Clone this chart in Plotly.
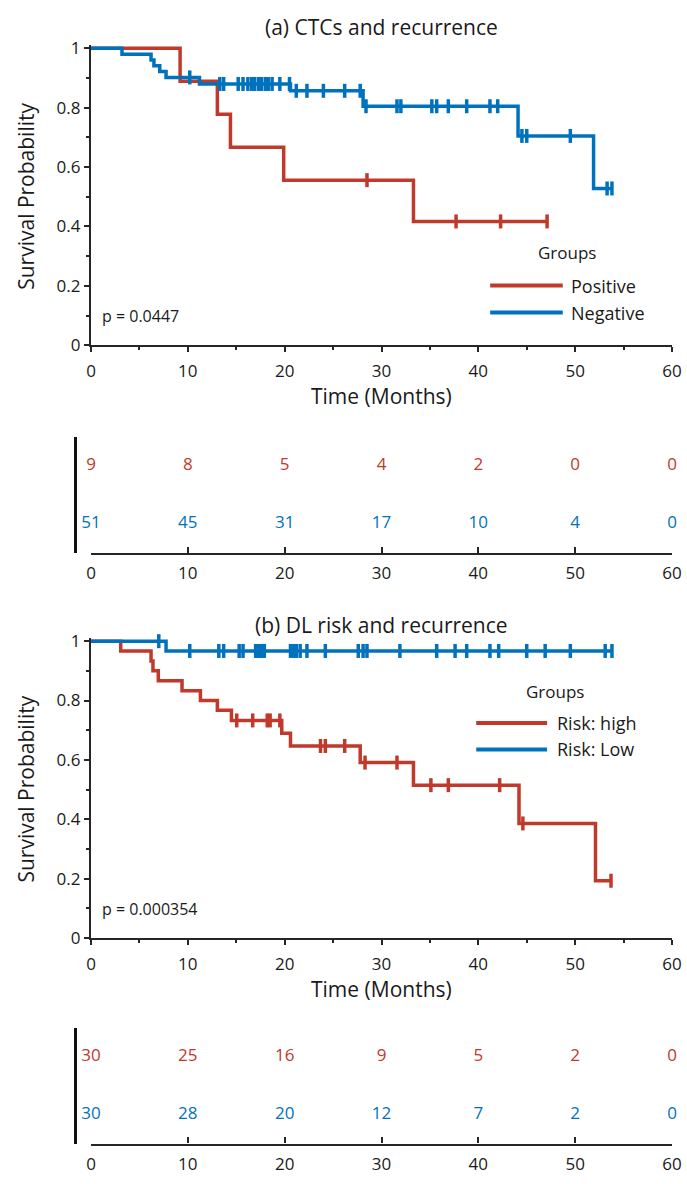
import plotly.graph_objects as go

# ---------------- data ----------------
# (a) CTCs and recurrence
pos_event_times = [9.2, 13.05, 14.4, 19.9, 33.3]
pos_surv = [0.889, 0.778, 0.667, 0.556, 0.417]
pos_censor = [28.5, 37.7, 42.3, 47.1]
pos_end = 47.1

neg_event_times = [3.2, 6.2, 6.5, 7.1, 7.75, 11.2, 20.6, 28.1, 44.1, 51.9]
neg_surv = [0.980, 0.961, 0.941, 0.922, 0.902, 0.880, 0.857, 0.805, 0.705, 0.528]
neg_censor = [10.2, 13.3, 13.7, 15.2, 15.7, 16.2, 16.6, 16.9, 17.3, 17.6, 18.0,
              18.3, 18.7, 19.5, 20.5, 21.2, 22.3, 24.0, 26.2, 27.8, 28.4, 31.6,
              32.0, 35.2, 35.7, 36.9, 38.8, 41.2, 42.0, 44.5, 45.0, 49.5, 53.3, 53.8]
neg_end = 53.8

# (b) DL risk and recurrence
high_event_times = [3.07, 6.2, 6.4, 6.95, 9.4, 11.3, 13.05, 14.5, 19.7, 20.6,
                    27.8, 33.3, 44.2, 52.1]
high_surv = [0.967, 0.933, 0.900, 0.867, 0.833, 0.800, 0.767, 0.733, 0.690,
             0.647, 0.591, 0.515, 0.386, 0.193]
high_censor = [15.05, 16.7, 18.2, 18.5, 19.5, 23.7, 24.2, 26.2, 28.3, 31.6,
               35.1, 36.9, 42.2, 44.6, 53.7]
high_end = 53.7

low_event_times = [7.75]
low_surv = [0.967]
low_censor = [7.0, 10.2, 13.2, 13.7, 15.3, 15.7, 17.0, 17.3, 17.6, 17.9, 20.6,
              20.9, 21.2, 21.6, 22.3, 24.2, 27.6, 28.1, 28.5, 31.9, 35.7, 37.6,
              38.8, 41.2, 42.1, 45.0, 46.9, 49.5, 53.1, 53.8]
low_end = 53.8

# numbers at risk
risk_times = [0, 10, 20, 30, 40, 50, 60]
ctc_pos_risk = [9, 8, 5, 4, 2, 0, 0]
ctc_neg_risk = [51, 45, 31, 17, 10, 4, 0]
dl_high_risk = [30, 25, 16, 9, 5, 2, 0]
dl_low_risk = [30, 28, 20, 12, 7, 2, 0]

titles = ["(a) CTCs and recurrence", "(b) DL risk and recurrence"]
legend_a = ["Positive", "Negative"]
legend_b = ["Risk: high", "Risk: Low"]
pvals = ["p = 0.0447", "p = 0.000354"]

# ---------------- styles ----------------
RED = "#C0392B"
BLUE = "#0072BD"
INK = "#1a1a1a"
AX = "#262626"
FONT = "Open Sans"
W, H = 687, 1184
ML, MR = 60, 10
PW = W - ML - MR


def px_x(px):
    return (px - ML) / PW


def py_y(py):
    return 1 - py / H


XDOM = [px_x(91), px_x(672)]


def step(times, surv, end):
    return [0] + list(times) + [end], [1] + list(surv) + [surv[-1]]


def surv_at(t, times, surv):
    s = 1.0
    for ti, si in zip(times, surv):
        if ti <= t:
            s = si
    return s


fig = go.Figure()


def add_km(xa, ya, groups):
    for times, surv, end, cens, col in groups:
        x, y = step(times, surv, end)
        fig.add_trace(go.Scatter(x=x, y=y, mode="lines", line=dict(color=col, width=3.5, shape="hv"),
                                 xaxis=xa, yaxis=ya, showlegend=False, hoverinfo="skip"))
        fig.add_trace(go.Scatter(x=cens, y=[surv_at(c, times, surv) for c in cens], mode="markers",
                                 marker=dict(symbol="line-ns", size=10, line=dict(color=col, width=3.5)),
                                 cliponaxis=False, xaxis=xa, yaxis=ya, showlegend=False, hoverinfo="skip"))


def add_risk(xa, ya, rows):
    for vals, col, yv in rows:
        fig.add_trace(go.Scatter(x=risk_times, y=[yv] * len(risk_times), mode="text",
                                 text=[str(v) for v in vals], textposition="middle center",
                                 textfont=dict(color=col, size=17, family=FONT), cliponaxis=False,
                                 xaxis=xa, yaxis=ya, showlegend=False, hoverinfo="skip"))


add_km("x", "y", [(pos_event_times, pos_surv, pos_end, pos_censor, RED),
                  (neg_event_times, neg_surv, neg_end, neg_censor, BLUE)])
add_risk("x2", "y2", [(ctc_pos_risk, RED, 0.75), (ctc_neg_risk, BLUE, 0.25)])
add_km("x3", "y3", [(high_event_times, high_surv, high_end, high_censor, RED),
                    (low_event_times, low_surv, low_end, low_censor, BLUE)])
add_risk("x4", "y4", [(dl_high_risk, RED, 0.75), (dl_low_risk, BLUE, 0.25)])

km_x = dict(range=[0, 60], domain=XDOM, showline=True, linewidth=2.2, linecolor=AX, ticks="outside",
            ticklen=5, tickwidth=2.2, tickcolor=AX, dtick=10, tick0=0, showgrid=False, zeroline=False,
            tickfont=dict(size=17, color=INK, family=FONT), ticklabelstandoff=4,
            minor=dict(ticks="outside", ticklen=3, tickwidth=2.2, tickcolor=AX, dtick=5, showgrid=False))
km_y = dict(range=[0, 1.01], showline=True, linewidth=2.2, linecolor=AX, ticks="outside",
            ticklen=5, tickwidth=2.2, tickcolor=AX, tickvals=[0, 0.2, 0.4, 0.6, 0.8, 1],
            ticktext=["0", "0.2", "0.4", "0.6", "0.8", "1"], showgrid=False, zeroline=False,
            tickfont=dict(size=17, color=INK, family=FONT),
            minor=dict(ticks="outside", ticklen=3, tickwidth=2.2, tickcolor=AX,
                       tickvals=[0.1, 0.3, 0.5, 0.7, 0.9], showgrid=False))
rk_x = dict(range=[0, 60], domain=XDOM, showline=True, linewidth=2.2, linecolor=AX, ticks="inside",
            ticklen=6, tickwidth=2.2, tickcolor=AX, dtick=10, tick0=0, showgrid=False, zeroline=False,
            tickfont=dict(size=17, color=INK, family=FONT), ticklabelstandoff=4)
rk_y = dict(range=[0, 1], showline=True, linewidth=2.5, linecolor="#111111", ticks="",
            showticklabels=False, showgrid=False, zeroline=False, anchor="free", position=px_x(75))

fig.update_layout(
    width=W, height=H, margin=dict(l=ML, r=MR, t=0, b=0),
    paper_bgcolor="white", plot_bgcolor="white",
    font=dict(family=FONT, color=INK),
    xaxis=dict(km_x, anchor="y"),
    yaxis=dict(km_y, domain=[py_y(342), py_y(342 - 305)], anchor="x"),
    xaxis2=dict(rk_x, anchor="y2"),
    yaxis2=dict(rk_y, domain=[py_y(553), py_y(435)]),
    xaxis3=dict(km_x, anchor="y3"),
    yaxis3=dict(km_y, domain=[py_y(945), py_y(945 - 305)], anchor="x3"),
    xaxis4=dict(rk_x, anchor="y4"),
    yaxis4=dict(rk_y, domain=[py_y(1154), py_y(1036)]),
)

xc = (XDOM[0] + XDOM[1]) / 2
ann = []
for title, py_t in zip(titles, [18, 627]):
    ann.append(dict(text=title, x=xc, y=py_y(py_t), xref="paper", yref="paper", showarrow=False,
                    font=dict(size=21, color=INK), xanchor="center", yanchor="middle"))
for py_t in [394, 997]:
    ann.append(dict(text="Time (Months)", x=xc, y=py_y(py_t), xref="paper", yref="paper",
                    showarrow=False, font=dict(size=21, color=INK), xanchor="center", yanchor="middle"))
for py_c in [191, 794]:
    ann.append(dict(text="Survival Probability", x=px_x(26), y=py_y(py_c), xref="paper", yref="paper",
                    showarrow=False, textangle=-90, font=dict(size=21, color=INK),
                    xanchor="center", yanchor="middle"))

# p-values
for xa, ya, txt in [("x", "y", pvals[0]), ("x3", "y3", pvals[1])]:
    ann.append(dict(text=txt, x=0.015, y=0.097, xref=f"{xa} domain", yref=f"{ya} domain", showarrow=False,
                    font=dict(size=16, color=INK), xanchor="left", yanchor="middle"))

# legends (manual)
shapes = []
legs = [("x", "y", legend_a, 0.819, 0.308, [0.199, 0.109], 0.687, 0.812, 0.823),
        ("x3", "y3", legend_b, 0.799, 0.822, [0.7175, 0.629], 0.663, 0.785, 0.798)]
for xa, ya, labels, gx, gy, ly, lx0, lx1, tx in legs:
    ann.append(dict(text="Groups", x=gx, y=gy, xref=f"{xa} domain", yref=f"{ya} domain", showarrow=False,
                    font=dict(size=17, color=INK), xanchor="center", yanchor="middle"))
    for lab, yy, col in zip(labels, ly, [RED, BLUE]):
        shapes.append(dict(type="line", x0=lx0, x1=lx1, y0=yy, y1=yy, xref=f"{xa} domain",
                           yref=f"{ya} domain", line=dict(color=col, width=4)))
        ann.append(dict(text=lab, x=tx, y=yy, xref=f"{xa} domain", yref=f"{ya} domain", showarrow=False,
                        font=dict(size=18, color=INK), xanchor="left", yanchor="middle"))

fig.update_layout(annotations=ann, shapes=shapes)
fig.write_html("out.html", config={"displayModeBar": False},
               post_script="document.body.style.margin='0';document.body.style.overflow='hidden';")
